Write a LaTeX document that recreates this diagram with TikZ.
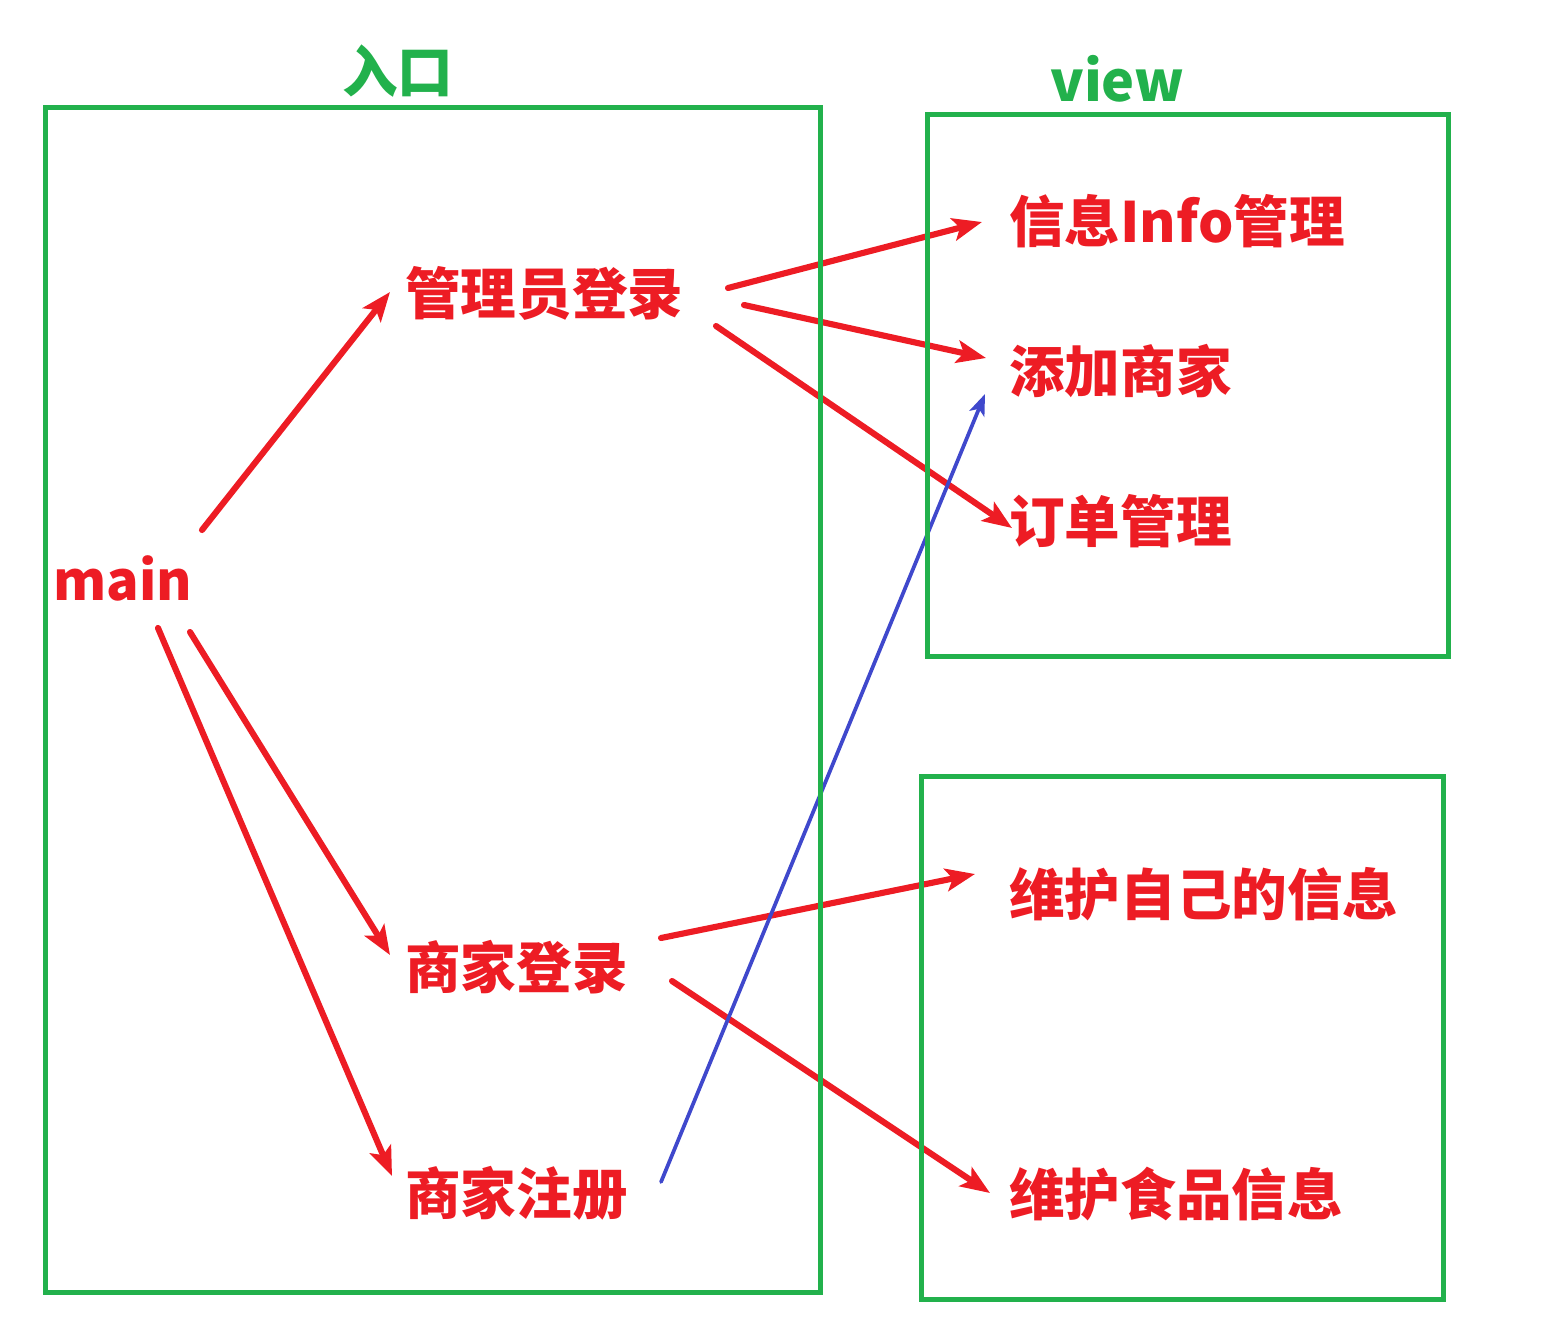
\documentclass[tikz,border=0pt]{standalone}
\usepackage{fontspec}
\setmainfont{Noto Sans CJK SC}
\usetikzlibrary{arrows.meta,calc}
\definecolor{pred}{HTML}{ED1C24}
\definecolor{pgreen}{HTML}{22B14C}
\definecolor{pblue}{HTML}{3F48CC}
\tikzset{
  lbl/.style={anchor=base west,inner sep=0pt,text=pred,font=\bfseries\fontsize{41.7pt}{48pt}\selectfont},
  ttl/.style={anchor=base west,inner sep=0pt,text=pgreen,font=\bfseries\fontsize{41.7pt}{48pt}\selectfont},
  box/.style={draw=pgreen,line width=3.75pt},
  arr/.style={draw=pred,line width=4.6pt,line cap=round,-{Stealth[length=22pt,width=17pt,inset=5pt]}},
  barr/.style={draw=pblue,line width=2.8pt,line cap=round,-{Stealth[length=16pt,width=12pt,inset=4pt]}}
}
\begin{document}
\begin{tikzpicture}[x=0.75pt,y=-0.75pt]
\useasboundingbox (0,0) rectangle (1566,1339);
% labels
\node[ttl] (t1) at (342,92) {入口};
\node[ttl] (t2) at (1050,101) {view};
\node[lbl,font=\bfseries\fontsize{40.5pt}{48pt}\selectfont] (main) at (53,600) {main};
\node[lbl] (adm) at (405,314) {管理员登录};
\node[lbl] (sjdl) at (405,988) {商家登录};
\node[lbl] (sjzc) at (405,1214) {商家注册};
\node[lbl] (info) at (1009,242) {信息Info管理};
\node[lbl] (add) at (1009,392) {添加商家};
\node[lbl] (order) at (1009,542) {订单管理};
\node[lbl] (self) at (1009,915) {维护自己的信息};
\node[lbl] (food) at (1009,1215) {维护食品信息};
% arrows
\draw[arr] ($(main.base west)+(149,-70)$) -- ($(adm.base west)+(-15,-22)$);
\draw[arr] ($(adm.base west)+(323,-26)$) -- ($(info.base west)+(-27,-20)$);
\draw[arr] ($(adm.base west)+(339,-9)$) -- ($(add.base west)+(-23,-34)$);
\draw[arr] ($(adm.base west)+(311,12)$) -- ($(order.base west)+(3,-14)$);
\draw[arr] ($(main.base west)+(137,32)$) -- ($(sjdl.base west)+(-15,-33)$);
\draw[arr] ($(main.base west)+(105,28)$) -- ($(sjzc.base west)+(-13,-38)$);
\draw[arr] ($(sjdl.base west)+(256,-50)$) -- ($(self.base west)+(-34,-41)$);
\draw[arr] ($(sjdl.base west)+(267,-7)$) -- ($(food.base west)+(-19,-22)$);
\draw[barr] ($(sjzc.base west)+(256,-32)$) -- ($(add.base west)+(-24,2)$);
% boxes
\draw[box] (45,107) rectangle (820,1292);
\draw[box] (927,114) rectangle (1448,656);
\draw[box] (921,776) rectangle (1443,1299);
\end{tikzpicture}
\end{document}
